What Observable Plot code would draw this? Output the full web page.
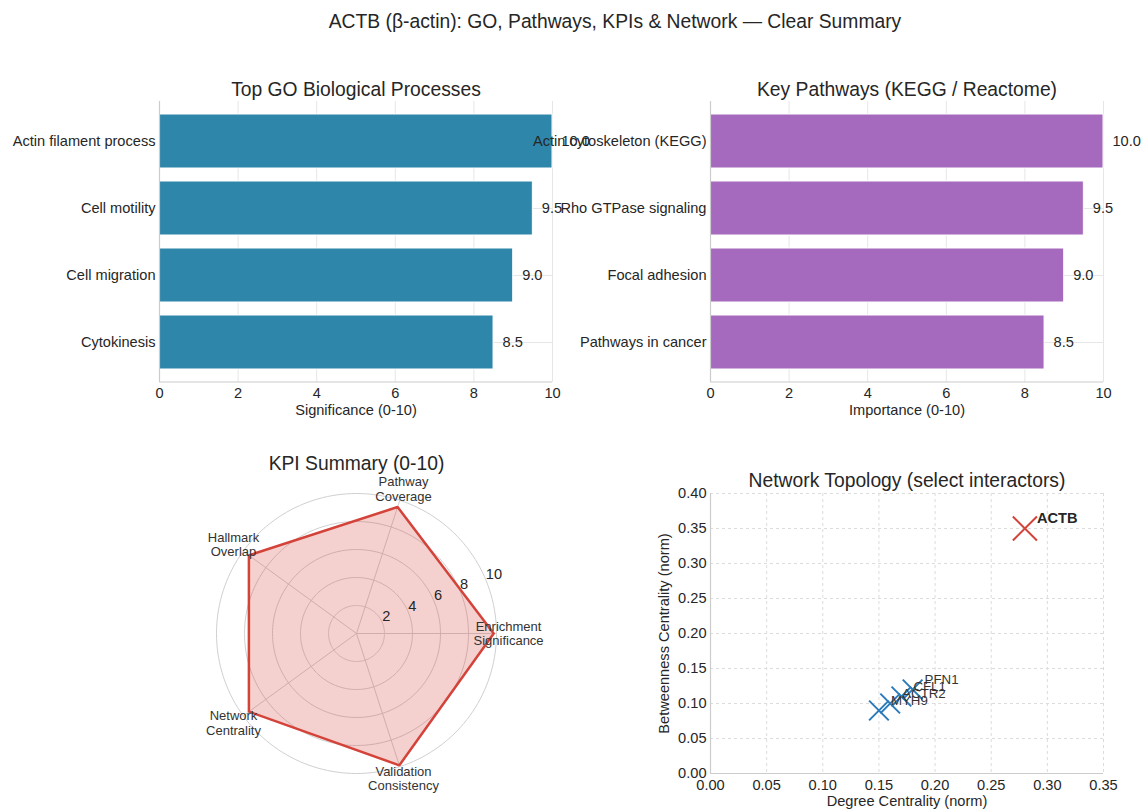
<!DOCTYPE html>
<html>
<head>
<meta charset="utf-8">
<script src="https://cdn.jsdelivr.net/npm/d3@7"></script>
<script src="https://cdn.jsdelivr.net/npm/@observablehq/plot@0.6"></script>
<style>
  html, body { margin: 0; padding: 0; background: #fff; }
  #root { position: relative; width: 1142px; height: 810px; overflow: hidden; background: #fff; font-family: 'Liberation Sans', Arial, sans-serif; }
  .panel { position: absolute; }
  .panel svg { overflow: visible; }
  #suptitle { position: absolute; top: 10px; left: 615px; transform: translateX(-50%); white-space: nowrap; font-size: 19.3px; line-height: 24px; color: #262626; }
</style>
</head>
<body>
<div id="root">
  <div id="suptitle">ACTB (β-actin): GO, Pathways, KPIs &amp; Network — Clear Summary</div>
  <div class="panel" id="p1" style="left:0px; top:60px;"></div>
  <div class="panel" id="p2" style="left:560px; top:60px;"></div>
  <div class="panel" id="p3" style="left:186px; top:443px;"></div>
  <div class="panel" id="p4" style="left:600px; top:450px;"></div>
</div>
<script>
// ---------------- DATA ----------------
const goTerms = ["Actin filament process", "Cell motility", "Cell migration", "Cytokinesis"];
const goScores = [10.0, 9.5, 9.0, 8.5];

const pathwayNames = ["Actin cytoskeleton (KEGG)", "Rho GTPase signaling", "Focal adhesion", "Pathways in cancer"];
const pathwayScores = [10.0, 9.5, 9.0, 8.5];

const barTicks = [0, 2, 4, 6, 8, 10];

const kpiNames = ["Enrichment\nSignificance", "Pathway\nCoverage", "Hallmark\nOverlap", "Network\nCentrality", "Validation\nConsistency"];
const kpiValues = [9.8, 9.5, 9.5, 9.5, 9.9];
const kpiTicks = [2, 4, 6, 8, 10];

const genes = ["ACTB", "PFN1", "CFL1", "ACTR2", "MYH9"];
const degreeCentrality = [0.28, 0.18, 0.17, 0.16, 0.15];
const betweennessCentrality = [0.35, 0.12, 0.11, 0.10, 0.09];
const netXTicks = [0, 0.05, 0.10, 0.15, 0.20, 0.25, 0.30, 0.35];
const netYTicks = [0, 0.05, 0.10, 0.15, 0.20, 0.25, 0.30, 0.35, 0.40];

// ---------------- STYLE ----------------
const FONT = "'Liberation Sans', Arial, sans-serif";
const TEXT = "#262626";
const GRID = "#e6e6e6";
const SPINE = "#cccccc";
const TEAL = "#2E86AB";
const PURPLE = "#A569BD";
const RED = "#d4433a";
const BLUE = "#2b7bba";
const FS = 14.6;
const TITLE_FS = 19.3;

function bottomSpine(index, scales, values, dims) {
  const l = document.createElementNS("http://www.w3.org/2000/svg", "line");
  const y = dims.height - dims.marginBottom;
  l.setAttribute("x1", dims.marginLeft);
  l.setAttribute("x2", dims.width - dims.marginRight);
  l.setAttribute("y1", y);
  l.setAttribute("y2", y);
  l.setAttribute("stroke", SPINE);
  l.setAttribute("stroke-width", 1.2);
  return l;
}

function barPanel(labels, values, color, title, xlabel, marginLeft, width, marginRight) {
  const data = labels.map((label, i) => ({label, value: values[i]}));
  return Plot.plot({
    width, height: 370,
    marginLeft, marginRight, marginTop: 41, marginBottom: 48,
    style: {fontFamily: FONT, fontSize: FS + "px", color: TEXT, background: "transparent", overflow: "visible"},
    x: {domain: [0, 10]},
    y: {domain: labels, paddingInner: 0.2, paddingOuter: 0.19},
    marks: [
      Plot.gridX(barTicks, {stroke: GRID, strokeOpacity: 1}),
      Plot.gridY(labels, {stroke: GRID, strokeOpacity: 1}),
      Plot.barX(data, {x: "value", y: "label", fill: color, stroke: "white", strokeWidth: 1}),
      Plot.ruleX([0], {stroke: SPINE, strokeWidth: 1.2}),
      bottomSpine,
      Plot.text(data, {x: "value", y: "label", text: d => d.value.toFixed(1), dx: 9, textAnchor: "start", fontSize: FS, fill: TEXT}),
      Plot.axisX(barTicks, {tickSize: 0, tickPadding: 5, label: null, fontSize: FS, fill: TEXT}),
      Plot.axisY({tickSize: 0, tickPadding: 4, label: null, fontSize: FS, fill: TEXT}),
      Plot.text([title], {frameAnchor: "top", lineAnchor: "middle", dy: -12, fontSize: TITLE_FS, fill: TEXT}),
      Plot.text([xlabel], {frameAnchor: "bottom", lineAnchor: "middle", dy: 28, fontSize: FS, fill: TEXT})
    ]
  });
}

document.getElementById("p1").appendChild(
  barPanel(goTerms, goScores, TEAL, "Top GO Biological Processes", "Significance (0-10)", 159, 580, 28)
);
document.getElementById("p2").appendChild(
  barPanel(pathwayNames, pathwayScores, PURPLE, "Key Pathways (KEGG / Reactome)", "Importance (0-10)", 150, 582, 39)
);

// ---------------- RADAR ----------------
const nK = kpiNames.length;
const angle = i => (2 * Math.PI * i) / nK;
const kpi = kpiNames.map((name, i) => ({name, value: kpiValues[i], a: angle(i)}));
const poly = [...kpi, kpi[0]].map(d => ({x: d.value * Math.cos(d.a), y: d.value * Math.sin(d.a)}));
const rMax = kpiTicks[kpiTicks.length - 1];
const rings = kpiTicks.flatMap(t => d3.range(0, 181).map(k => ({t, x: t * Math.cos(2 * Math.PI * k / 180), y: t * Math.sin(2 * Math.PI * k / 180)})));
const spokes = kpi.map(d => ({x2: rMax * Math.cos(d.a), y2: rMax * Math.sin(d.a)}));
const labelR = rMax * 1.086;
const rlabA = 22.5 * Math.PI / 180;

document.getElementById("p3").appendChild(Plot.plot({
  width: 340, height: 367,
  marginLeft: 0, marginRight: 0, marginTop: 0, marginBottom: 0,
  style: {fontFamily: FONT, fontSize: FS + "px", color: TEXT, background: "transparent", overflow: "visible"},
  x: {domain: [-170 / 14, 170 / 14], axis: null},
  y: {domain: [-177 / 14, 190 / 14], axis: null},
  marks: [
    Plot.line(rings, {x: "x", y: "y", z: "t", stroke: "#d0d0d0", strokeWidth: 1}),
    Plot.link(spokes, {x1: 0, y1: 0, x2: "x2", y2: "y2", stroke: "#d0d0d0", strokeWidth: 1}),
    Plot.line(poly, {x: "x", y: "y", fill: RED, fillOpacity: 0.25, stroke: RED, strokeWidth: 2.5, strokeLinejoin: "miter", curve: "linear"}),
    Plot.text(kpiTicks, {x: t => t * Math.cos(rlabA), y: t => t * Math.sin(rlabA), text: t => String(t), textAnchor: "start", dy: -6, fontSize: FS, fill: TEXT}),
    Plot.text(kpi, {x: d => labelR * Math.cos(d.a), y: d => labelR * Math.sin(d.a), text: "name", fontSize: 13, lineHeight: 1.1, fill: "#333"}),
    Plot.text(["KPI Summary (0-10)"], {frameAnchor: "top", lineAnchor: "middle", dy: 20, fontSize: TITLE_FS, fill: TEXT})
  ]
}));

// ---------------- NETWORK ----------------
const nodes = genes.map((g, i) => ({gene: g, x: degreeCentrality[i], y: betweennessCentrality[i], hub: i === 0}));
const fmt2 = d3.format(".2f");

document.getElementById("p4").appendChild(Plot.plot({
  width: 542, height: 360,
  marginLeft: 110, marginRight: 39, marginTop: 43, marginBottom: 37,
  style: {fontFamily: FONT, fontSize: FS + "px", color: TEXT, background: "transparent", overflow: "visible"},
  x: {domain: [0, 0.35]},
  y: {domain: [0, 0.40]},
  marks: [
    Plot.gridX(netXTicks, {stroke: "#dcdcdc", strokeOpacity: 1, strokeDasharray: "3,3"}),
    Plot.gridY(netYTicks, {stroke: "#dcdcdc", strokeOpacity: 1, strokeDasharray: "3,3"}),
    Plot.ruleX([0], {stroke: SPINE, strokeWidth: 1.2}),
    Plot.ruleY([0], {stroke: SPINE, strokeWidth: 1.2}),
    Plot.dot(nodes.filter(d => !d.hub), {x: "x", y: "y", symbol: "times", r: 9, stroke: BLUE, strokeWidth: 2}),
    Plot.dot(nodes.filter(d => d.hub), {x: "x", y: "y", symbol: "times", r: 11, stroke: RED, strokeWidth: 2}),
    Plot.text(nodes.filter(d => !d.hub), {x: "x", y: "y", text: "gene", dx: 12, dy: -10, textAnchor: "start", fontSize: 13.3, fill: "#333"}),
    Plot.text(nodes.filter(d => d.hub), {x: "x", y: "y", text: "gene", dx: 12, dy: -10, textAnchor: "start", fontSize: FS, fontWeight: "bold", fill: TEXT}),
    Plot.axisX(netXTicks, {tickSize: 0, tickPadding: 6, tickFormat: fmt2, label: null, fontSize: FS, fill: TEXT}),
    Plot.axisY(netYTicks, {tickSize: 0, tickPadding: 4, tickFormat: fmt2, label: null, fontSize: FS, fill: TEXT}),
    Plot.text(["Network Topology (select interactors)"], {frameAnchor: "top", lineAnchor: "middle", dy: -13, fontSize: TITLE_FS, fill: TEXT}),
    Plot.text(["Degree Centrality (norm)"], {frameAnchor: "bottom", lineAnchor: "middle", dy: 28, fontSize: FS, fill: TEXT}),
    Plot.text(["Betweenness Centrality (norm)"], {frameAnchor: "left", textAnchor: "middle", lineAnchor: "middle", rotate: -90, dx: -46, fontSize: FS, fill: TEXT})
  ]
}));
</script>
</body>
</html>
